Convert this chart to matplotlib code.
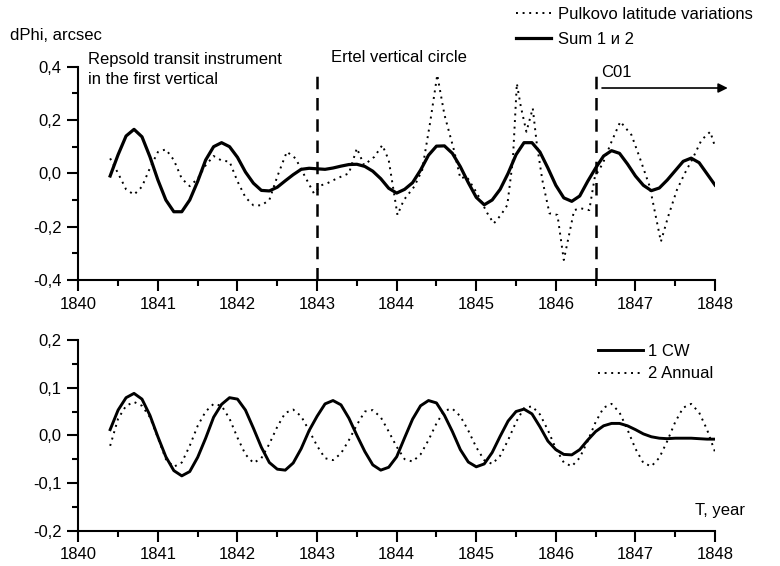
import numpy as np
import matplotlib
matplotlib.use("Agg")
import matplotlib.pyplot as plt
from matplotlib.ticker import MultipleLocator, FuncFormatter

plt.rcParams['font.family'] = ['Liberation Sans', 'DejaVu Sans']

# ---------------- data ----------------
years_grid = np.round(np.arange(1840.4, 1848.0001, 0.1), 2)

sum_12 = [-0.010, 0.070, 0.140, 0.165, 0.137, 0.062, -0.025, -0.100, -0.144, -0.144,
          -0.100, -0.030, 0.050, 0.100, 0.115, 0.100, 0.060, 0.005, -0.037, -0.064,
          -0.066, -0.052, -0.028, -0.005, 0.015, 0.019, 0.017, 0.015, 0.020, 0.027,
          0.033, 0.034, 0.026, 0.008, -0.020, -0.056, -0.074, -0.060, -0.035, 0.012,
          0.068, 0.102, 0.103, 0.075, 0.025, -0.035, -0.090, -0.118, -0.100, -0.060,
          0.000, 0.070, 0.115, 0.115, 0.080, 0.020, -0.045, -0.092, -0.105, -0.085,
          -0.030, 0.020, 0.065, 0.085, 0.075, 0.035, -0.010, -0.045, -0.065, -0.055,
          -0.025, 0.010, 0.045, 0.057, 0.040, -0.002, -0.044]

pulkovo_t = [1840.40, 1840.50, 1840.60, 1840.70, 1840.80, 1840.90, 1841.00, 1841.10,
             1841.20, 1841.30, 1841.40, 1841.50, 1841.60, 1841.70, 1841.80, 1841.90,
             1842.00, 1842.10, 1842.20, 1842.30, 1842.40, 1842.50, 1842.62, 1842.73,
             1842.85, 1842.96, 1843.05, 1843.13, 1843.25, 1843.40, 1843.50, 1843.59,
             1843.72, 1843.82, 1843.90, 1844.01, 1844.09, 1844.22, 1844.32, 1844.42,
             1844.51, 1844.60, 1844.72, 1844.80, 1844.88, 1845.01, 1845.14, 1845.22,
             1845.31, 1845.39, 1845.46, 1845.51, 1845.56, 1845.63, 1845.71, 1845.76,
             1845.83, 1845.92, 1846.02, 1846.10, 1846.17, 1846.23, 1846.31, 1846.42,
             1846.49, 1846.59, 1846.70, 1846.81, 1846.95, 1847.05, 1847.18, 1847.32,
             1847.41, 1847.52, 1847.62, 1847.72, 1847.83, 1847.94, 1848.00]
pulkovo_v = [0.056, 0.000, -0.060, -0.080, -0.050, 0.020, 0.080, 0.090,
             0.050, -0.020, -0.048, -0.020, 0.030, 0.065, 0.048, 0.044,
             -0.030, -0.090, -0.120, -0.120, -0.100, -0.012, 0.081, 0.056,
             -0.013, -0.075, -0.045, -0.037, -0.019, 0.000, 0.094, 0.031,
             0.062, 0.106, 0.050, -0.156, -0.100, -0.050, 0.012, 0.190,
             0.369, 0.220, 0.087, -0.019, -0.012, -0.075, -0.150, -0.188,
             -0.156, -0.119, 0.050, 0.337, 0.250, 0.156, 0.244, 0.112,
             -0.025, -0.150, -0.156, -0.325, -0.225, -0.138, -0.131, -0.138,
             -0.013, 0.037, 0.119, 0.194, 0.144, 0.062, -0.050, -0.256,
             -0.163, -0.063, 0.000, 0.056, 0.125, 0.156, 0.100]

cw = [0.012, 0.053, 0.079, 0.088, 0.076, 0.042, -0.003, -0.045, -0.074, -0.085,
      -0.076, -0.046, -0.006, 0.038, 0.065, 0.079, 0.076, 0.053, 0.015, -0.025,
      -0.057, -0.071, -0.073, -0.058, -0.028, 0.010, 0.040, 0.066, 0.073, 0.064,
      0.036, 0.000, -0.034, -0.062, -0.073, -0.067, -0.045, -0.005, 0.034, 0.062,
      0.073, 0.068, 0.042, 0.008, -0.030, -0.056, -0.066, -0.060, -0.036, -0.002,
      0.030, 0.050, 0.055, 0.045, 0.018, -0.012, -0.030, -0.040, -0.041, -0.030,
      -0.010, 0.008, 0.020, 0.025, 0.025, 0.020, 0.012, 0.003, -0.003, -0.006,
      -0.007, -0.006, -0.006, -0.006, -0.007, -0.008, -0.008]

annual = [-0.022, 0.035, 0.062, 0.070, 0.062, 0.038, -0.005, -0.050, -0.066, -0.057,
          -0.022, 0.020, 0.050, 0.066, 0.062, 0.035, -0.005, -0.040, -0.058, -0.048,
          -0.018, 0.018, 0.047, 0.054, 0.040, 0.010, -0.022, -0.048, -0.052, -0.038,
          -0.010, 0.022, 0.050, 0.053, 0.038, 0.008, -0.024, -0.050, -0.055, -0.040,
          -0.010, 0.025, 0.052, 0.056, 0.040, 0.010, -0.025, -0.052, -0.060, -0.043,
          -0.010, 0.028, 0.057, 0.061, 0.044, 0.011, -0.028, -0.057, -0.065, -0.047,
          -0.012, 0.028, 0.058, 0.066, 0.048, 0.012, -0.028, -0.058, -0.065, -0.047,
          -0.012, 0.028, 0.058, 0.066, 0.048, 0.012, -0.035]

epoch_bounds = [1843.0, 1846.5]
xticks = [1840, 1841, 1842, 1843, 1844, 1845, 1846, 1847, 1848]

# ---------------- figure ----------------
fig = plt.figure(figsize=(7.8, 5.66), dpi=100)
ax1 = fig.add_axes([0.1004, 0.5053, 0.8163, 0.3769])
ax2 = fig.add_axes([0.1004, 0.0624, 0.8163, 0.3369])

dotted = (0, (1.0, 2.4))
comma = FuncFormatter(lambda v, p: ("%.1f" % v).replace('.', ',').replace('-0,0', '0,0'))

l_p, = ax1.plot(pulkovo_t, pulkovo_v, color='black', lw=1.4, ls=dotted,
                label='Pulkovo latitude variations')
l_s, = ax1.plot(years_grid, sum_12, color='black', lw=2.3,
                label='Sum 1 и 2')
for xb in epoch_bounds:
    ax1.plot([xb, xb], [-0.4, 0.37], color='black', lw=1.8, ls=(0, (5, 3.5)),
             clip_on=False)
ax1.set_xlim(1840, 1848)
ax1.set_ylim(-0.4, 0.4)
ax1.yaxis.set_major_locator(MultipleLocator(0.2))
ax1.yaxis.set_minor_locator(MultipleLocator(0.1))

ax2.plot(years_grid, cw, color='black', lw=2.1, label='1 CW')
ax2.plot(years_grid, annual, color='black', lw=1.4, ls=dotted, label='2 Annual')
ax2.set_xlim(1840, 1848)
ax2.set_ylim(-0.2, 0.2)
ax2.yaxis.set_major_locator(MultipleLocator(0.1))
ax2.yaxis.set_minor_locator(MultipleLocator(0.05))

for ax in (ax1, ax2):
    ax.set_xticks(xticks)
    ax.xaxis.set_minor_locator(MultipleLocator(0.5))
    ax.yaxis.set_major_formatter(comma)
    for s in ('top', 'right'):
        ax.spines[s].set_visible(False)
    for s in ('left', 'bottom'):
        ax.spines[s].set_linewidth(1.5)
    ax.tick_params(which='major', direction='out', length=8, width=1.5,
                   labelsize=12, pad=4)
    ax.tick_params(which='minor', direction='out', length=4.5, width=1.5)
    ax.patch.set_visible(False)

# annotations top
fig.text(10 / 780, 1 - 35 / 566, 'dPhi, arcsec', fontsize=12, va='center', ha='left')
ax1.text(1840.12, 0.39, 'Repsold transit instrument\nin the first vertical',
         fontsize=12, va='center', ha='left', linespacing=1.45)
ax1.text(1843.17, 0.435, 'Ertel vertical circle', fontsize=12, va='center', ha='left')
ax1.text(1846.57, 0.38, 'C01', fontsize=12, va='center', ha='left')
ax1.annotate('', xy=(1848.16, 0.32), xytext=(1846.58, 0.32),
             arrowprops=dict(arrowstyle='-|>', color='black', lw=1.2,
                             mutation_scale=14, shrinkA=0, shrinkB=0),
             annotation_clip=False)

fig.legend(handles=[l_p, l_s], loc='upper left',
           bbox_to_anchor=(516 / 780, 1 - 7 / 566), frameon=False, fontsize=12,
           handlelength=2.1, handletextpad=0.4, labelspacing=0.6, borderpad=0,
           borderaxespad=0)

ax2.legend(loc='upper left', bbox_to_anchor=(598 / 780, 1 - 344 / 566),
           bbox_transform=fig.transFigure, frameon=False, fontsize=12,
           handlelength=2.7, handletextpad=0.3, labelspacing=0.45, borderpad=0,
           borderaxespad=0)

fig.text(745 / 780, 1 - 511 / 566, 'T, year', fontsize=12, va='center', ha='right')

fig.savefig('out.png', dpi=100)
